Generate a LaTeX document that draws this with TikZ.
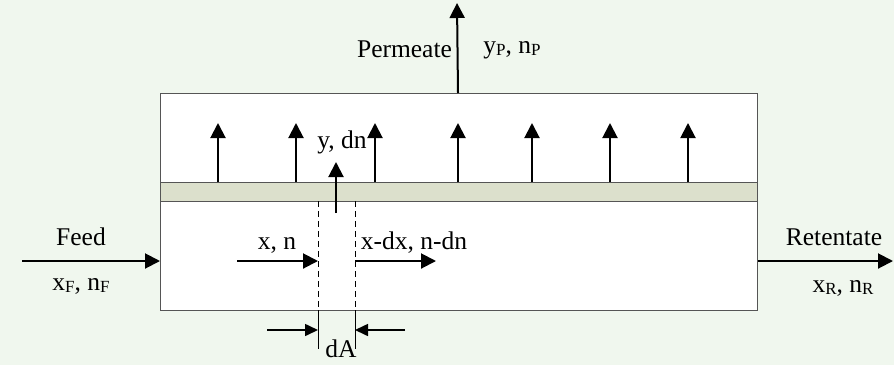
\documentclass[tikz,border=0pt]{standalone}
\usepackage{fontspec}
\setmainfont{Liberation Serif}
\usetikzlibrary{arrows.meta}
\definecolor{bgc}{RGB}{240,247,238}
\definecolor{memb}{RGB}{220,224,204}
\definecolor{edge}{RGB}{85,85,85}
\newcommand\sbs[1]{\raisebox{-2.5pt}{\fontsize{17}{17}\selectfont #1}}
\tikzset{
  arr/.style={line width=2pt,-{Triangle[length=15pt,width=15pt]}},
  lbl/.style={anchor=base,inner sep=0pt,font=\fontsize{25.5}{30}\selectfont},
  dash line/.style={line width=0.9pt,dash pattern=on 6pt off 4pt},
  tick line/.style={line width=0.9pt},
}
\begin{document}
\begin{tikzpicture}[x=1pt,y=-1pt]
\useasboundingbox (0,0) rectangle (894,365);
\fill[bgc] (0,0) rectangle (894,365);
% module and membrane
\node[draw=edge,line width=1.3pt,fill=white,minimum width=597pt,minimum height=217pt,anchor=north west,inner sep=0pt] (box) at (160,93) {};
\node[draw=edge,line width=1.3pt,fill=memb,minimum width=597pt,minimum height=19pt,anchor=north west,inner sep=0pt] (mem) at (160,182) {};
% permeate flux arrows
\foreach \i/\xx in {1/218,2/296,3/375,4/458,5/532,6/610,7/688}{
  \coordinate (u\i a) at (\xx,182);
  \coordinate (u\i b) at (\xx,123);
  \draw[arr] (u\i a) -- (u\i b);
}
% permeate outlet
\coordinate (pa) at (458,93);
\coordinate (pb) at (457,3);
\draw[arr] (pa) -- (pb);
\node[lbl] (perm) at (404.5,57) {Permeate};
\node[lbl] (yp) at (512,53) {y\sbs{P}, n\sbs{P}};
% local permeate
\coordinate (la) at (336,213);
\coordinate (lb) at (336,162);
\draw[arr] (la) -- (lb);
\node[lbl] (ydn) at (342,148) {y, dn};
% dashed element
\coordinate (d1t) at (318,201);
\coordinate (d1m) at (318,310);
\coordinate (d1b) at (318,349);
\coordinate (d2t) at (355,201);
\coordinate (d2m) at (355,310);
\coordinate (d2b) at (355,349);
\draw[dash line] (d1t) -- (d1m);
\draw[dash line] (d2t) -- (d2m);
\draw[tick line] (d1m) -- (d1b);
\draw[tick line] (d2m) -- (d2b);
% internal flows
\coordinate (xa) at (237,261);
\coordinate (xb) at (318,261);
\draw[arr] (xa) -- (xb);
\node[lbl] (xn) at (277,249) {x, n};
\coordinate (ya) at (355,261);
\coordinate (yb) at (436,261);
\draw[arr] (ya) -- (yb);
\node[lbl] (xdx) at (414,249) {x-dx, n-dn};
% dA
\coordinate (a1) at (267,330);
\coordinate (a2) at (318,330);
\coordinate (b1) at (405,330);
\coordinate (b2) at (355,330);
\draw[arr,line width=1.6pt,-{Triangle[length=13pt,width=12pt]}] (a1) -- (a2);
\draw[arr,line width=1.6pt,-{Triangle[length=13pt,width=12pt]}] (b1) -- (b2);
\node[lbl] (dA) at (341,357) {dA};
% feed
\coordinate (fa) at (22,261);
\draw[arr] (fa) -- (box.west |- fa);
\node[lbl] (feed) at (81,245) {Feed};
\node[lbl] (xf) at (81,290) {x\sbs{F}, n\sbs{F}};
% retentate
\coordinate (rb) at (893,261);
\draw[arr] (box.east |- rb) -- (rb);
\node[lbl] (ret) at (834,245) {Retentate};
\node[lbl] (xr) at (843,292) {x\sbs{R}, n\sbs{R}};
\end{tikzpicture}
\end{document}
